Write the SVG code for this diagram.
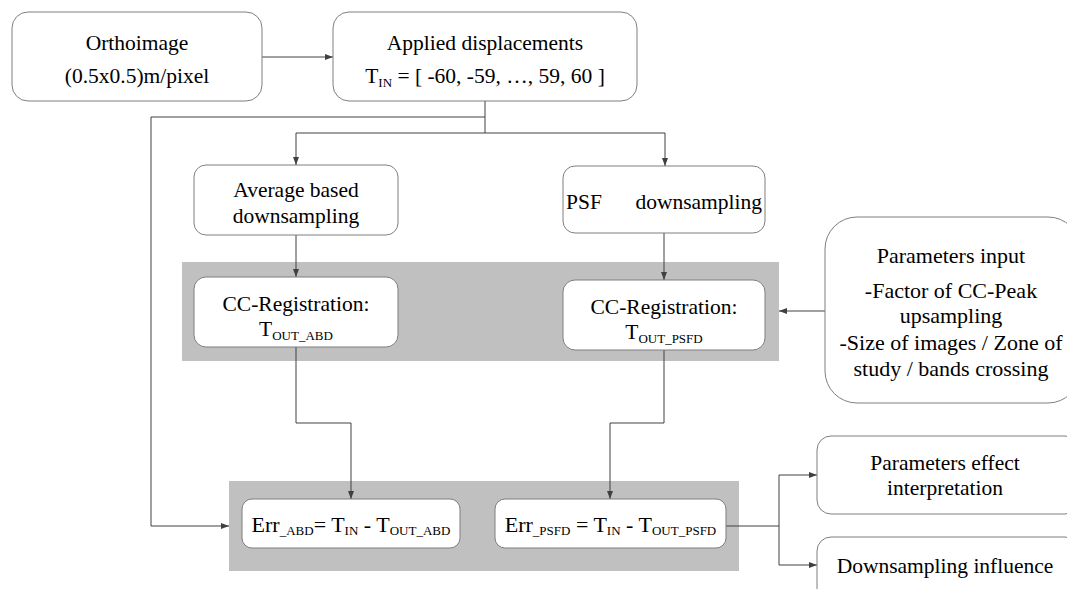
<svg xmlns="http://www.w3.org/2000/svg" width="1067" height="589" viewBox="0 0 1067 589" font-family="'Liberation Serif', 'Times New Roman', 'DejaVu Serif', serif">
<style>
.box{fill:#fff;stroke:#7f7f7f;stroke-width:1}
.band{fill:#c0c0c0;stroke:none}
.t{font-size:21.5px;fill:#000;text-anchor:middle}
.e{font-size:22px}
.p{font-size:22px}
.sub{font-size:13px}
.c{fill:none;stroke:#404040;stroke-width:1}
</style>
<defs>
<marker id="ah" viewBox="0 0 8 6" refX="8" refY="3" markerWidth="8" markerHeight="6" markerUnits="userSpaceOnUse" orient="auto">
<path d="M0,0 L8,3 L0,6 Z" fill="#404040"/>
</marker>
</defs>
<g id="band1"><rect class="band" x="182" y="262" width="597" height="99"/></g>
<g id="band2"><rect class="band" x="229" y="481" width="510" height="90"/></g>
<g id="connectors">
<path class="c" d="M262,57 H333" marker-end="url(#ah)"/>
<path class="c" d="M485,101 V133"/>
<path class="c" d="M485,117 H151 V526 H229" marker-end="url(#ah)"/>
<path class="c" d="M296,133 H665"/>
<path class="c" d="M296,133 V165" marker-end="url(#ah)"/>
<path class="c" d="M665,133 V166" marker-end="url(#ah)"/>
<path class="c" d="M296,235 V277" marker-end="url(#ah)"/>
<path class="c" d="M664,233 V280" marker-end="url(#ah)"/>
<path class="c" d="M296,347 V423 H351 V499" marker-end="url(#ah)"/>
<path class="c" d="M664,350 V423 H610 V499" marker-end="url(#ah)"/>
<path class="c" d="M825,311 H779" marker-end="url(#ah)"/>
<path class="c" d="M726,526 H779"/>
<path class="c" d="M779,475 V565"/>
<path class="c" d="M779,475 H817" marker-end="url(#ah)"/>
<path class="c" d="M779,565 H817" marker-end="url(#ah)"/>
</g>
<g id="orthoimage">
<rect class="box" x="12" y="12" width="250" height="89" rx="16"/>
<text class="t" x="137" y="50">Orthoimage</text>
<text class="t" x="137" y="83">(0.5x0.5)m/pixel</text>
</g>
<g id="applied">
<rect class="box" x="333" y="12" width="304" height="89" rx="16"/>
<text class="t" x="485" y="50">Applied displacements</text>
<text class="t" x="485" y="83">T<tspan class="sub" dy="4">IN</tspan><tspan dy="-4"> = [ -60, -59, …, 59, 60 ]</tspan></text>
</g>
<g id="average">
<rect class="box" x="194" y="165" width="204" height="70" rx="12"/>
<text class="t" x="296" y="197">Average based</text>
<text class="t" x="296" y="223">downsampling</text>
</g>
<g id="psf">
<rect class="box" x="563" y="166" width="202" height="67" rx="12"/>
<text class="t" x="566" y="209" style="text-anchor:start">PSF</text>
<text class="t" x="762" y="209" style="text-anchor:end">downsampling</text>
</g>
<g id="cc-abd">
<rect class="box" x="194" y="277" width="204" height="70" rx="12"/>
<text class="t" x="296" y="311">CC-Registration:</text>
<text class="t" x="296" y="336">T<tspan class="sub" dy="4">OUT_ABD</tspan></text>
</g>
<g id="cc-psfd">
<rect class="box" x="563" y="280" width="202" height="70" rx="12"/>
<text class="t" x="664" y="314">CC-Registration:</text>
<text class="t" x="664" y="339">T<tspan class="sub" dy="4">OUT_PSFD</tspan></text>
</g>
<g id="params">
<rect class="box" x="825" y="217" width="255" height="186" rx="32"/>
<text class="t p" x="951" y="263">Parameters input</text>
<text class="t p" x="951" y="298">-Factor of CC-Peak</text>
<text class="t p" x="951" y="323">upsampling</text>
<text class="t p" x="951" y="350">-Size of images / Zone of</text>
<text class="t p" x="951" y="376">study / bands crossing</text>
</g>
<g id="err-abd">
<rect class="box" x="242" y="499" width="218" height="49" rx="10"/>
<text class="t e" x="351" y="532">Err<tspan class="sub" dy="3">_ABD</tspan><tspan dy="-3">= T</tspan><tspan class="sub" dy="3">IN</tspan><tspan dy="-3"> - T</tspan><tspan class="sub" dy="3">OUT_ABD</tspan></text>
</g>
<g id="err-psfd">
<rect class="box" x="495" y="499" width="231" height="49" rx="10"/>
<text class="t e" x="610.5" y="532">Err<tspan class="sub" dy="3">_PSFD</tspan><tspan dy="-3"> = T</tspan><tspan class="sub" dy="3">IN</tspan><tspan dy="-3"> - T</tspan><tspan class="sub" dy="3">OUT_PSFD</tspan></text>
</g>
<g id="effect">
<rect class="box" x="817" y="436" width="262" height="78" rx="14"/>
<text class="t" x="945" y="470">Parameters effect</text>
<text class="t" x="945" y="495">interpretation</text>
</g>
<g id="influence">
<rect class="box" x="817" y="537" width="262" height="79" rx="14"/>
<text class="t" x="945" y="573">Downsampling influence</text>
</g>
</svg>
